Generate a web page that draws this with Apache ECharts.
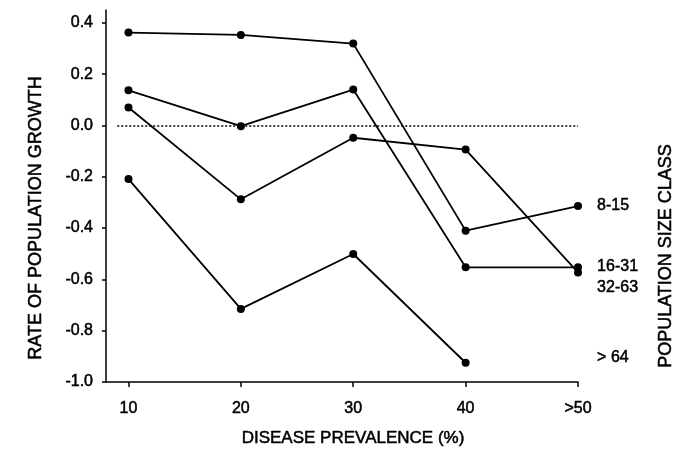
<!DOCTYPE html>
<html>
<head>
<meta charset="utf-8">
<script src="https://cdn.jsdelivr.net/npm/echarts@6/dist/echarts.min.js"></script>
<style>
  html, body { margin: 0; padding: 0; background: #fff; }
  #main { width: 674px; height: 449px; }
</style>
</head>
<body>
<div id="main"></div>
<script>
// Disease prevalence classes (x) and their tick labels
const prevalence = [10, 20, 30, 40, 50];
const prevalenceLabels = ['10', '20', '30', '40', '>50'];
const growthTicks = [-1.0, -0.8, -0.6, -0.4, -0.2, 0.0, 0.2, 0.4];

// Rate of population growth per population size class
const class8to15 = [0.362, 0.353, 0.319, -0.41, -0.314];
const class16to31 = [0.137, -0.003, 0.14, -0.553, -0.553];
const class32to63 = [0.07, -0.288, -0.048, -0.094, -0.573];
const classOver64 = [-0.209, -0.715, -0.501, -0.925, null];

const sizeClassNames = ['8-15', '16-31', '32-63', '> 64'];

const font = '"Liberation Sans", Arial, Helvetica, sans-serif';
// thin outline so the text reads as heavy as the scanned original
const heavy = { textBorderColor: '#000', textBorderWidth: 0.5 };

const pairs = (vals) => prevalence.map((x, i) => [x, vals[i]]);

const lineSeries = (name, vals) => ({
  name: name,
  type: 'line',
  data: pairs(vals),
  symbol: 'circle',
  symbolSize: 8,
  connectNulls: false,
  itemStyle: { color: '#000' },
  lineStyle: { color: '#000', width: 1.8 },
  animation: false
});

const series = [
  lineSeries(sizeClassNames[0], class8to15),
  lineSeries(sizeClassNames[1], class16to31),
  lineSeries(sizeClassNames[2], class32to63),
  lineSeries(sizeClassNames[3], classOver64)
];

// dotted zero reference line
series[0].markLine = {
  silent: true,
  symbol: 'none',
  label: { show: false },
  lineStyle: { color: '#000', type: [2, 2], width: 1.6 },
  data: [[{ coord: [9, 0] }, { coord: [50, 0] }]]
};

const titleText = (text, x, y, rotate, size) => ({
  type: 'text',
  x: x,
  y: y,
  rotation: rotate,
  style: {
    text: text,
    font: size + 'px ' + font,
    fill: '#000',
    stroke: '#000',
    lineWidth: 0.5,
    align: 'center',
    verticalAlign: 'middle'
  }
});

const option = {
  backgroundColor: '#fff',
  animation: false,
  grid: { left: 106, right: 96, top: 10, bottom: 67 },
  xAxis: {
    type: 'value',
    min: 8,
    max: 50,
    axisLine: { onZero: false, lineStyle: { color: '#000', width: 1.5 } },
    axisTick: {
      customValues: prevalence,
      length: 5,
      lineStyle: { color: '#000', width: 1.5 }
    },
    axisLabel: Object.assign({
      customValues: prevalence,
      formatter: (v) => prevalenceLabels[prevalence.indexOf(v)],
      margin: 19,
      fontFamily: font,
      fontSize: 16,
      color: '#000'
    }, heavy),
    splitLine: { show: false }
  },
  yAxis: {
    type: 'value',
    min: -1.0,
    max: 0.45,
    axisLine: { lineStyle: { color: '#000', width: 1.5 } },
    axisTick: {
      customValues: growthTicks,
      length: 4,
      lineStyle: { color: '#000', width: 1.5 }
    },
    axisLabel: Object.assign({
      customValues: growthTicks,
      formatter: (v) => v.toFixed(1),
      margin: 13,
      fontFamily: font,
      fontSize: 16,
      color: '#000'
    }, heavy),
    splitLine: { show: false }
  },
  graphic: [
    titleText('RATE OF POPULATION GROWTH', 36, 218, Math.PI / 2, 18),
    titleText('DISEASE PREVALENCE (%)', 353, 438, 0, 17),
    titleText('POPULATION SIZE CLASS', 666, 256, Math.PI / 2, 18)
  ],
  series: series
};

const chart = echarts.init(document.getElementById('main'));
chart.setOption(option);

// size class labels on the right of the plot
const labelValues = [-0.314, -0.55, -0.632, -0.905];
const labelGraphics = sizeClassNames.map((name, i) => {
  const p = chart.convertToPixel({ gridIndex: 0 }, [51.7, labelValues[i]]);
  return {
    type: 'text',
    x: p[0],
    y: p[1],
    style: {
      text: name,
      font: '16px ' + font,
      fill: '#000',
      stroke: '#000',
      lineWidth: 0.5,
      verticalAlign: 'middle'
    }
  };
});
chart.setOption({ graphic: option.graphic.concat(labelGraphics) });
</script>
</body>
</html>
